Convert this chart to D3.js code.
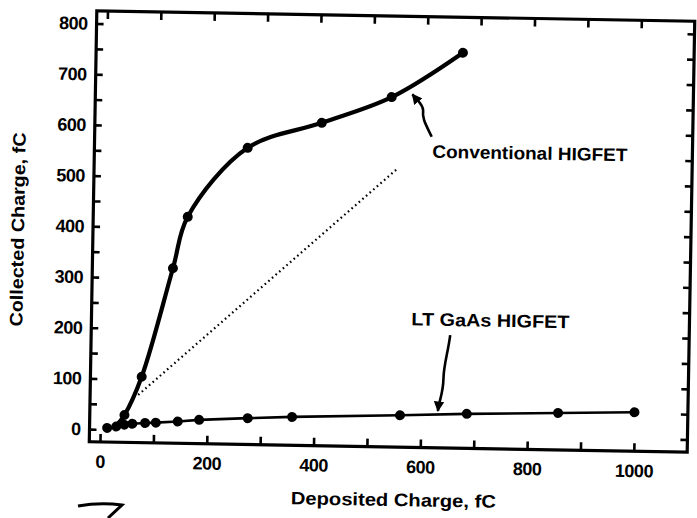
<!DOCTYPE html>
<html>
<head>
<meta charset="utf-8">
<script src="https://cdn.jsdelivr.net/npm/d3@7"></script>
<style>
  body { margin: 0; background: #fff; }
  text { font-family: "Liberation Sans", Arial, sans-serif; fill: #000; }
</style>
</head>
<body>
<svg id="chart"></svg>
<script>
// Conventional HIGFET (deposited vs collected charge, fC)
const convDeposited = [30, 45, 76, 131, 157, 267, 405, 535, 667];
const convCollected = [8, 29, 105, 320, 422, 560, 612, 665, 755];

// LT GaAs HIGFET
const ltDeposited = [13, 30, 45, 60, 84, 104, 145, 185, 276, 359, 561, 686, 857, 1000];
const ltCollected = [3, 6, 10, 12, 14, 15, 18, 22, 27, 31, 38, 43, 48, 52];

// dotted reference line
const refDeposited = [70, 549];
const refCollected = [69, 525];

const xTickValues = [0, 100, 200, 300, 400, 500, 600, 700, 800, 900, 1000];
const yTickValues = [0, 50, 100, 150, 200, 250, 300, 350, 400, 450, 500, 550, 600, 650, 700, 750, 800];

const width = 697, height = 518;

const svg = d3.select('#chart')
    .attr('width', width)
    .attr('height', height);

// the scanned page sits a little crooked, so the whole figure is tilted
const fig = svg.append('g')
    .attr('transform', 'rotate(1,391,232)');

const x = d3.scaleLinear().domain([-20, 1100]).range([93, 691]);
const y = d3.scaleLinear().domain([-25, 825]).range([447, 16]);

// axes
const xAxis = d3.axisBottom(x)
    .tickValues(xTickValues)
    .tickSizeInner(-8).tickSizeOuter(0)
    .tickPadding(13)
    .tickFormat(d => d % 200 === 0 ? d : '');

const yAxis = d3.axisLeft(y)
    .tickValues(yTickValues)
    .tickSizeInner(-7).tickSizeOuter(0)
    .tickPadding(9)
    .tickFormat(d => d % 100 === 0 ? d : '');

const topAxis = d3.axisTop(x)
    .tickValues(xTickValues)
    .tickSizeInner(-8).tickSizeOuter(0)
    .tickFormat('');

const rightAxis = d3.axisRight(y)
    .tickValues(yTickValues)
    .tickSizeInner(-7).tickSizeOuter(0)
    .tickFormat('');

function styleAxis(g) {
    g.select('.domain').remove();
    g.selectAll('.tick line').attr('stroke', '#000').attr('stroke-width', 2.6);
    g.selectAll('.tick text')
        .attr('font-size', 18)
        .attr('font-weight', 'bold')
        .attr('letter-spacing', -0.5);
}

fig.append('g')
    .attr('transform', `translate(0,${y.range()[0]})`)
    .call(xAxis).call(styleAxis);

fig.append('g')
    .attr('transform', `translate(${x.range()[0]},0)`)
    .call(yAxis).call(styleAxis);

fig.append('g')
    .attr('transform', `translate(0,${y.range()[1]})`)
    .call(topAxis).call(styleAxis);

fig.append('g')
    .attr('transform', `translate(${x.range()[1]},0)`)
    .call(rightAxis).call(styleAxis);

// frame
fig.append('rect')
    .attr('x', x.range()[0])
    .attr('y', y.range()[1])
    .attr('width', x.range()[1] - x.range()[0])
    .attr('height', y.range()[0] - y.range()[1])
    .attr('fill', 'none')
    .attr('stroke', '#000')
    .attr('stroke-width', 3.2);

// dotted unity-ish line
const refData = refDeposited.map((d, i) => [d, refCollected[i]]);
fig.append('path')
    .datum(refData)
    .attr('d', d3.line().x(d => x(d[0])).y(d => y(d[1])))
    .attr('fill', 'none')
    .attr('stroke', '#000')
    .attr('stroke-width', 2.2)
    .attr('stroke-dasharray', '1.6,3.2');

// LT GaAs series
const ltData = ltDeposited.map((d, i) => [d, ltCollected[i]]);
fig.append('path')
    .datum(ltData)
    .attr('d', d3.line().x(d => x(d[0])).y(d => y(d[1])))
    .attr('fill', 'none')
    .attr('stroke', '#000')
    .attr('stroke-width', 2.6);

fig.selectAll('.lt-pt')
    .data(ltData)
    .join('circle')
    .attr('class', 'lt-pt')
    .attr('cx', d => x(d[0]))
    .attr('cy', d => y(d[1]))
    .attr('r', 5);

// conventional series
const convData = convDeposited.map((d, i) => [d, convCollected[i]]);
fig.append('path')
    .datum(convData)
    .attr('d', d3.line().curve(d3.curveCatmullRom.alpha(0.5)).x(d => x(d[0])).y(d => y(d[1])))
    .attr('fill', 'none')
    .attr('stroke', '#000')
    .attr('stroke-width', 4.2)
    .attr('stroke-linejoin', 'round');

fig.selectAll('.conv-pt')
    .data(convData.slice(1))
    .join('circle')
    .attr('class', 'conv-pt')
    .attr('cx', d => x(d[0]))
    .attr('cy', d => y(d[1]))
    .attr('r', 5);

// arrowheads
svg.append('defs').append('marker')
    .attr('id', 'head')
    .attr('viewBox', '0 0 10 10')
    .attr('refX', 9).attr('refY', 5)
    .attr('markerWidth', 4).attr('markerHeight', 4)
    .attr('orient', 'auto')
    .append('path')
    .attr('d', 'M0,0L10,5L0,10z');

// annotations
fig.append('path')
    .attr('d', 'M430,136 C424,124 420,118 421,110 C421,104 415,100 410,94')
    .attr('fill', 'none')
    .attr('stroke', '#000')
    .attr('stroke-width', 2.6)
    .attr('marker-end', 'url(#head)');

fig.append('text')
    .attr('x', 431)
    .attr('y', 157)
    .attr('font-size', 18)
    .attr('font-weight', 'bold')
    .attr('textLength', 195)
    .attr('lengthAdjust', 'spacingAndGlyphs')
    .text('Conventional HIGFET');

fig.append('path')
    .attr('d', 'M452,334 C450,352 446,364 446,378 C446,392 442,400 441,410')
    .attr('fill', 'none')
    .attr('stroke', '#000')
    .attr('stroke-width', 2.6)
    .attr('marker-end', 'url(#head)');

fig.append('text')
    .attr('x', 413)
    .attr('y', 325)
    .attr('font-size', 18)
    .attr('font-weight', 'bold')
    .attr('textLength', 158)
    .attr('lengthAdjust', 'spacingAndGlyphs')
    .text('LT GaAs HIGFET');

// axis titles
fig.append('text')
    .attr('x', 398)
    .attr('y', 506)
    .attr('text-anchor', 'middle')
    .attr('font-size', 18)
    .attr('font-weight', 'bold')
    .attr('textLength', 205)
    .attr('lengthAdjust', 'spacingAndGlyphs')
    .text('Deposited Charge, fC');

fig.append('text')
    .attr('transform', 'translate(24,236) rotate(-90)')
    .attr('text-anchor', 'middle')
    .attr('font-size', 18)
    .attr('font-weight', 'bold')
    .attr('textLength', 194)
    .attr('lengthAdjust', 'spacingAndGlyphs')
    .text('Collected Charge, fC');

// stray pen mark on the scan
svg.append('path')
    .attr('d', 'M78,506 Q100,502 122,505 L108,518')
    .attr('fill', 'none')
    .attr('stroke', '#000')
    .attr('stroke-width', 3);
</script>
</body>
</html>
